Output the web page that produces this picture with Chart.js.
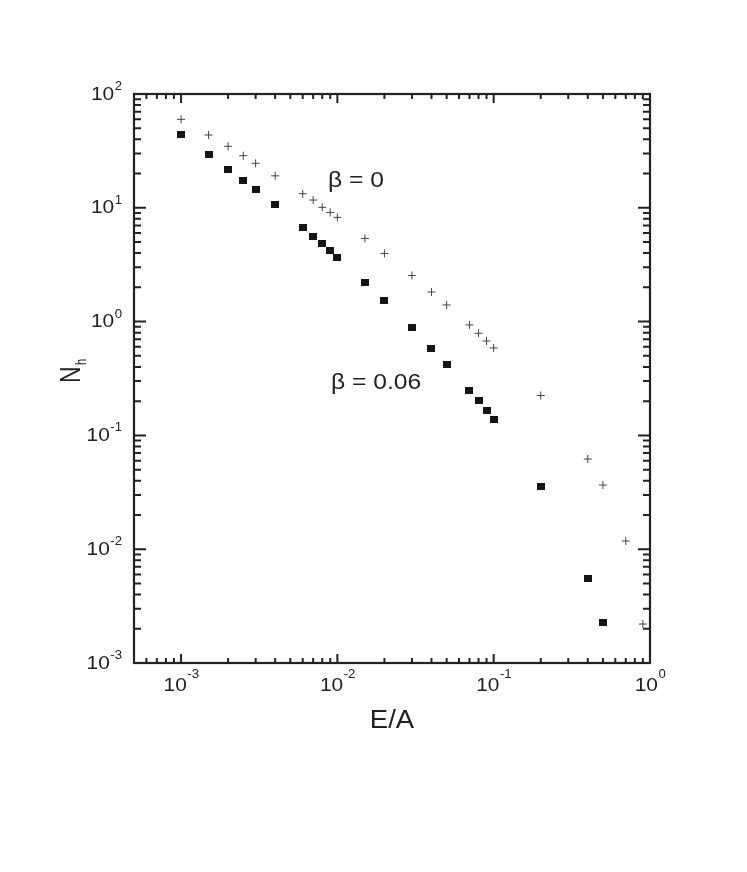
<!DOCTYPE html>
<html>
<head>
<meta charset="utf-8">
<title>Nh vs E/A</title>
<script src="https://cdn.jsdelivr.net/npm/chart.js@4.4.1/dist/chart.umd.min.js"></script>
<style>
  body { margin: 0; background: #fff; }
  #wrap { width: 747px; height: 872px; }
</style>
</head>
<body>
<div id="wrap"><canvas id="chart" width="747" height="872"></canvas></div>
<script>
// beta = 0 (crosses)
const ea_b0 = [0.001, 0.0015, 0.002, 0.0025, 0.003, 0.004, 0.006, 0.007, 0.008, 0.009, 0.01,
               0.015, 0.02, 0.03, 0.04, 0.05, 0.07, 0.08, 0.09, 0.1, 0.2, 0.4, 0.5, 0.7, 0.9];
const nh_b0 = [59.9, 43.6, 34.7, 28.7, 24.6, 19.1, 13.3, 11.7, 10.1, 9.11, 8.24,
               5.38, 3.97, 2.54, 1.82, 1.40, 0.935, 0.79, 0.676, 0.587, 0.224, 0.062, 0.0366, 0.0118, 0.0022];

// beta = 0.06 (squares)
const ea_b06 = [0.001, 0.0015, 0.002, 0.0025, 0.003, 0.004, 0.006, 0.007, 0.008, 0.009, 0.01,
                0.015, 0.02, 0.03, 0.04, 0.05, 0.07, 0.08, 0.09, 0.1, 0.2, 0.4, 0.5];
const nh_b06 = [44.2, 29.7, 21.9, 17.5, 14.5, 10.6, 6.72, 5.6, 4.82, 4.19, 3.66,
                2.22, 1.52, 0.887, 0.583, 0.42, 0.249, 0.201, 0.164, 0.137, 0.0359, 0.0055, 0.00226];

const xRange = [5e-4, 1];
const yRange = [1e-3, 1e2];
const xDecades = [-3, -2, -1, 0];
const yDecades = [-3, -2, -1, 0, 1, 2];

const FONT = "Helvetica, Arial, 'Liberation Sans', sans-serif";
const INK = '#222';

function toPoints(xs, ys) {
    return xs.map((x, i) => ({ x: x, y: ys[i] }));
}

// small filled square marker, a bit wider than tall like the original
const sq = document.createElement('canvas');
sq.width = 8; sq.height = 7;
const sqc = sq.getContext('2d');
sqc.fillStyle = '#151515';
sqc.fillRect(0, 0, 8, 7);

// all minor + major tick values inside a range
function logTicks(range) {
    const out = [];
    for (let e = -4; e <= 2; e++) {
        for (let k = 1; k <= 9; k++) {
            const v = k * Math.pow(10, e);
            if (v >= range[0] * 0.999 && v <= range[1] * 1.001) out.push({ v: v, major: k === 1 });
        }
    }
    return out;
}

// text drawn a little wider, the original picture is stretched sideways
function wideText(ctx, str, x, y, size, sx, align) {
    ctx.save();
    ctx.font = size + 'px ' + FONT;
    const w = ctx.measureText(str).width * sx;
    let x0 = x;
    if (align === 'center') x0 = x - w / 2;
    if (align === 'right') x0 = x - w;
    ctx.translate(x0, y);
    ctx.scale(sx, 1);
    ctx.textAlign = 'left';
    ctx.textBaseline = 'alphabetic';
    ctx.fillText(str, 0, 0);
    ctx.restore();
    return w;
}

const TICK_PX = 19, SUP_PX = 12, SX = 1.1;

function powWidth(ctx, exp) {
    ctx.font = TICK_PX + 'px ' + FONT;
    const a = ctx.measureText('10').width * SX;
    ctx.font = SUP_PX + 'px ' + FONT;
    const b = ctx.measureText(String(exp)).width * SX;
    return [a, b];
}

const framePlugin = {
    id: 'frame',
    beforeDraw(chart) {
        const ctx = chart.ctx;
        ctx.save();
        ctx.fillStyle = '#fff';
        ctx.fillRect(0, 0, chart.width, chart.height);
        ctx.restore();
    },
    afterDraw(chart) {
        const ctx = chart.ctx;
        const a = chart.chartArea;
        const xs = chart.scales.x;
        const ys = chart.scales.y;

        ctx.save();
        ctx.strokeStyle = INK;
        ctx.fillStyle = INK;
        ctx.lineWidth = 2;

        // inward ticks on all four sides
        ctx.beginPath();
        logTicks(xRange).forEach(t => {
            const px = xs.getPixelForValue(t.v);
            const len = t.major ? 9 : 5;
            ctx.moveTo(px, a.bottom); ctx.lineTo(px, a.bottom - len);
            ctx.moveTo(px, a.top); ctx.lineTo(px, a.top + len);
        });
        logTicks(yRange).forEach(t => {
            const py = ys.getPixelForValue(t.v);
            const len = t.major ? 12 : 7;
            ctx.moveTo(a.left, py); ctx.lineTo(a.left + len, py);
            ctx.moveTo(a.right, py); ctx.lineTo(a.right - len, py);
        });
        ctx.stroke();

        ctx.lineWidth = 2.2;
        ctx.strokeRect(a.left, a.top, a.right - a.left, a.bottom - a.top);

        // tick labels 10^n
        xDecades.forEach(e => {
            const px = xs.getPixelForValue(Math.pow(10, e));
            const [w1, w2] = powWidth(ctx, e);
            const x0 = px - (w1 + w2) / 2;
            wideText(ctx, '10', x0, a.bottom + 28, TICK_PX, SX, 'left');
            wideText(ctx, String(e), x0 + w1 + 0.5, a.bottom + 15, SUP_PX, SX, 'left');
        });
        yDecades.forEach(e => {
            const py = ys.getPixelForValue(Math.pow(10, e));
            const [w1, w2] = powWidth(ctx, e);
            const right = a.left - 12;
            wideText(ctx, String(e), right, py - 4, SUP_PX, SX, 'right');
            wideText(ctx, '10', right - w2 - 0.5, py + 5.5, TICK_PX, SX, 'right');
        });

        // axis titles
        wideText(ctx, 'E/A', (a.left + a.right) / 2, 728, 25, 1.1, 'center');

        ctx.save();
        ctx.translate(80, 383);
        ctx.rotate(-Math.PI / 2);
        ctx.scale(1, 1.25);
        ctx.font = '23px ' + FONT;
        ctx.textBaseline = 'alphabetic';
        ctx.fillText('N', 0, 0);
        const nw = ctx.measureText('N').width;
        ctx.font = '11px ' + FONT;
        ctx.fillText('h', nw + 1.5, 5);
        ctx.restore();

        // curve labels
        wideText(ctx, 'β = 0', 328, 187, 22, 1.12, 'left');
        wideText(ctx, 'β = 0.06', 331, 389, 22, 1.12, 'left');

        ctx.restore();
    }
};

new Chart(document.getElementById('chart'), {
    type: 'scatter',
    data: {
        datasets: [
            {
                label: 'β = 0',
                data: toPoints(ea_b0, nh_b0),
                pointStyle: 'cross',
                pointRadius: 4,
                pointHoverRadius: 4,
                borderColor: '#444',
                backgroundColor: '#444',
                pointBorderWidth: 1,
                showLine: false
            },
            {
                label: 'β = 0.06',
                data: toPoints(ea_b06, nh_b06),
                pointStyle: sq,
                pointRadius: 4,
                pointHoverRadius: 4,
                borderColor: '#151515',
                backgroundColor: '#151515',
                showLine: false
            }
        ]
    },
    options: {
        responsive: false,
        animation: false,
        devicePixelRatio: 1,
        clip: false,
        layout: { padding: { left: 134, top: 94, right: 97, bottom: 209 } },
        scales: {
            x: { type: 'logarithmic', min: xRange[0], max: xRange[1], display: false },
            y: { type: 'logarithmic', min: yRange[0], max: yRange[1], display: false }
        },
        plugins: {
            legend: { display: false },
            tooltip: { enabled: false }
        }
    },
    plugins: [framePlugin]
});
</script>
</body>
</html>
